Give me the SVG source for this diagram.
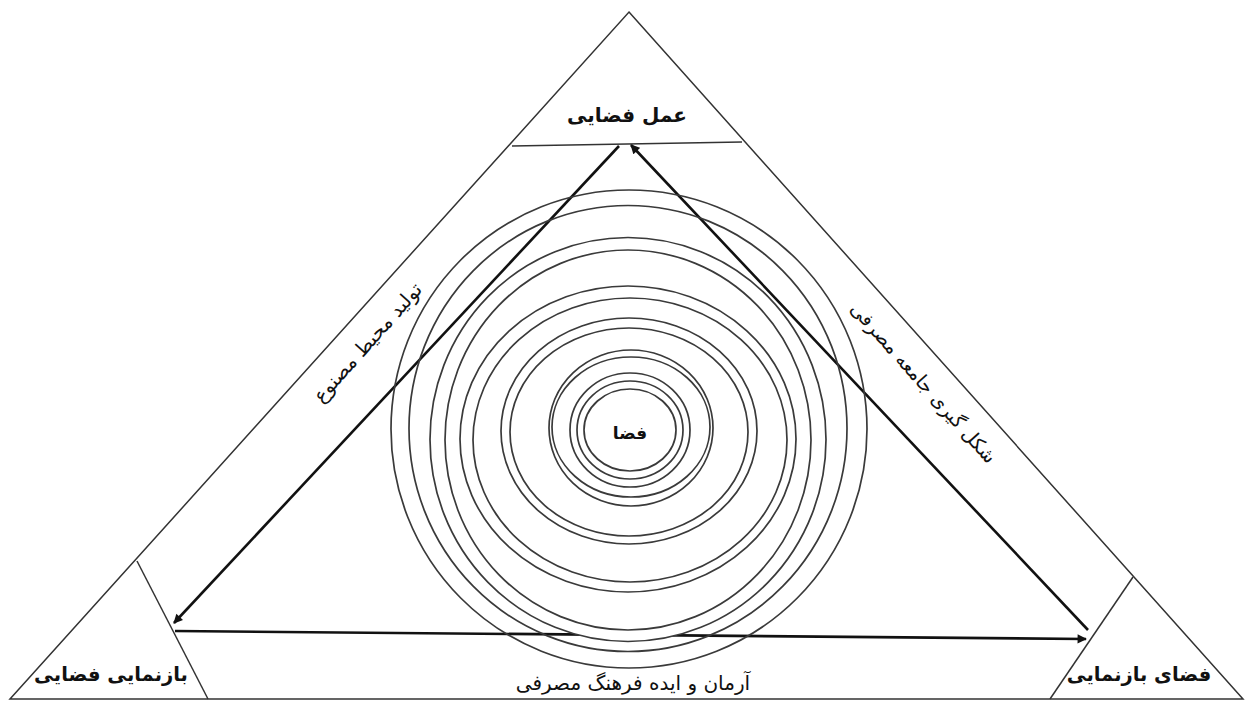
<svg xmlns="http://www.w3.org/2000/svg" width="1245" height="702" viewBox="0 0 1245 702">
  <style>
    .frame { fill: none; stroke: #333; stroke-width: 1.5; }
    .ring { fill: none; stroke: #3a3a3a; stroke-width: 1.7; }
    .ringw { fill: #fff; stroke: #3a3a3a; stroke-width: 1.7; }
    .arrow { fill: none; stroke: #111; stroke-width: 2.6; }
    .lbl { font-family: 'DejaVu Sans', 'Noto Sans', sans-serif; fill: #111; text-anchor: middle; }
    .bold { font-weight: bold; }
  </style>
  <defs>
    <marker id="ah" viewBox="0 0 10 10" refX="9" refY="5" markerWidth="4" markerHeight="3.6" orient="auto" markerUnits="strokeWidth">
      <path d="M0,0 L10,5 L0,10 Z" fill="#111"/>
    </marker>
  </defs>
  <rect width="1245" height="702" fill="#fff"/>

  <g id="frame">
    <polygon class="frame" points="629,12 1243,699 10,699"/>
  </g>

  <g id="node-top">
    <line class="frame" x1="512" y1="146" x2="742" y2="142"/>
    <text class="lbl bold" x="627" y="122" font-size="20">عمل فضایی</text>
  </g>

  <g id="node-left">
    <line class="frame" x1="137" y1="561" x2="208" y2="699"/>
    <text class="lbl bold" x="111" y="681" font-size="19.5">بازنمایی فضایی</text>
  </g>

  <g id="node-right">
    <line class="frame" x1="1133" y1="577" x2="1050" y2="699"/>
    <text class="lbl bold" x="1139" y="681" font-size="19.5">فضای بازنمایی</text>
  </g>

  <g id="connectors">
    <line class="arrow" x1="619" y1="146" x2="174" y2="623" marker-end="url(#ah)"/>
    <line class="arrow" x1="175" y1="631" x2="1086" y2="639" marker-end="url(#ah)"/>
    <line class="arrow" x1="1088" y1="630" x2="631" y2="145" marker-end="url(#ah)"/>
    <text class="lbl" font-size="19.5" transform="translate(368,343) rotate(-48.2)" y="6">تولید محیط مصنوع</text>
    <text class="lbl" font-size="19" transform="translate(923,383) rotate(48.2)" y="6">شکل گیری جامعه مصرفی</text>
    <text class="lbl" font-size="20" x="633" y="690">آرمان و ایده فرهنگ مصرفی</text>
  </g>

  <g id="node-center">
    <ellipse class="ring" cx="629" cy="429" rx="238" ry="239"/>
    <ellipse class="ring" cx="628" cy="428.5" rx="219" ry="223"/>
    <ellipse class="ringw" cx="628" cy="439.5" rx="198" ry="202"/>
    <ellipse class="ring" cx="628" cy="440" rx="183" ry="190"/>
    <ellipse class="ring" cx="628" cy="439" rx="168" ry="153"/>
    <ellipse class="ring" cx="630" cy="440" rx="157" ry="142"/>
    <ellipse class="ring" cx="629" cy="431" rx="128" ry="113"/>
    <ellipse class="ring" cx="629" cy="432" rx="119" ry="104"/>
    <ellipse class="ring" cx="631" cy="428" rx="82" ry="78"/>
    <ellipse class="ring" cx="631" cy="427" rx="79" ry="70"/>
    <ellipse class="ring" cx="630" cy="430" rx="60" ry="57"/>
    <ellipse class="ring" cx="630" cy="430" rx="53" ry="49"/>
    <ellipse class="ring" cx="630" cy="430" rx="46" ry="41" stroke-width="2.2"/>
    <text class="lbl bold" x="630" y="439" font-size="17">فضا</text>
  </g>
</svg>
